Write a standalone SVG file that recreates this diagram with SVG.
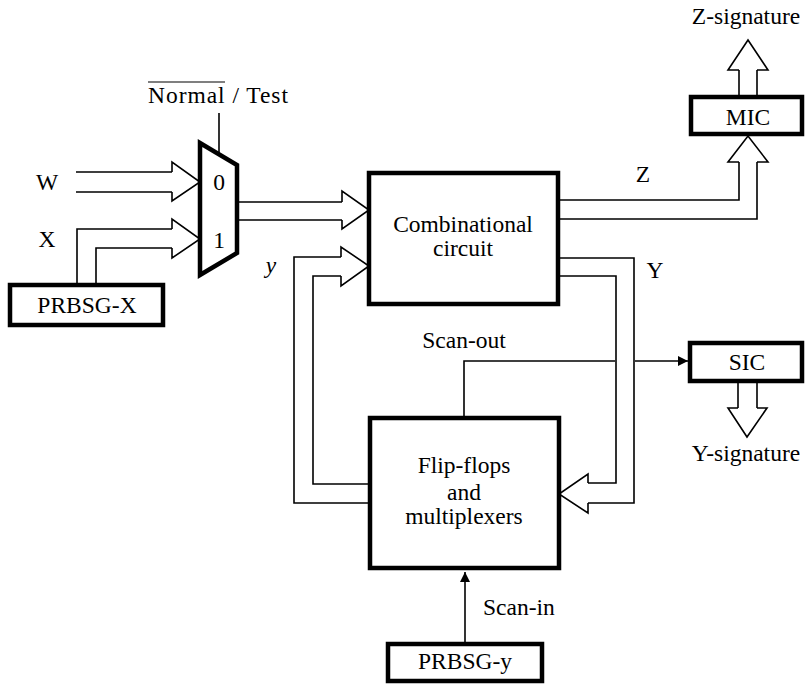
<svg xmlns="http://www.w3.org/2000/svg" width="809" height="684" viewBox="0 0 809 684">
<defs>
<marker id="ah" markerWidth="10" markerHeight="10" refX="10" refY="5" orient="auto" markerUnits="userSpaceOnUse"><path d="M0,0 L10,5 L0,10 Z" fill="#000"/></marker>
<style>
.t{font-family:"Liberation Serif","Times New Roman",serif;font-size:23.5px;fill:#000}
.c{text-anchor:middle}
.box{fill:#fff;stroke:#000;stroke-width:4.5}
.ln{fill:none;stroke:#000;stroke-width:1.6}
.bus{fill:#fff;stroke:#000;stroke-width:1.6;stroke-linejoin:miter}
</style>
</defs>
<rect width="809" height="684" fill="#fff"/>
<g id="connectors">
<path class="ln" d="M76,172 H172 M76,192 H172"/>
<path class="bus" d="M172,172 V162 L200,182 L172,201 V192"/>
<path class="ln" d="M77,285 V229 H172 M96,285 V248 H172"/>
<path class="bus" d="M172,229 V219 L200,239 L172,258 V248"/>
<path class="ln" d="M219,113 V154"/>
<path class="ln" d="M237,202 H342 M237,220 H342"/>
<path class="bus" d="M342,202 V191 L369,210 L342,229 V220"/>
<path class="ln" d="M370,503 H294 V257 H341 M370,484 H313 V276 H341"/>
<path class="bus" d="M341,257 V247 L369,266 L341,286 V276"/>
<path class="ln" d="M558,200 H739 V162 M558,219 H757 V162"/>
<path class="bus" d="M739,162 H728 L748,136 L768,162 H757"/>
<path class="ln" d="M739,96 V70 M757,96 V70"/>
<path class="bus" d="M739,70 H728 L748,40 L768,70 H757"/>
<path class="ln" d="M558,258 H634 V503 H588 M558,276 H616 V483 H588"/>
<path class="bus" d="M588,483 V474 L559,494 L588,513 V503"/>
<path class="ln" d="M464,418 V361 H615"/>
<path class="ln" d="M635,361 H688" marker-end="url(#ah)"/>
<path class="ln" d="M738,381 V408 M757,381 V408"/>
<path class="bus" d="M738,408 H728 L747,437 L767,408 H757"/>
<path class="ln" d="M465,643 V572" marker-end="url(#ah)"/>
</g>
<g id="mux">
<path d="M200,143 L237,165 L237,253 L200,275 Z" fill="#fff" stroke="#000" stroke-width="4.5" stroke-linejoin="miter"/>
<text class="t c" x="219" y="190">0</text>
<text class="t c" x="219" y="248">1</text>
</g>
<g id="sel-label">
<text class="t" x="148" y="103" textLength="140" lengthAdjust="spacing">Normal / Test</text>
<line x1="148" y1="82" x2="225" y2="82" stroke="#000" stroke-width="1.2"/>
</g>
<g id="in-labels">
<text class="t c" x="47" y="190">W</text>
<text class="t c" x="47" y="247">X</text>
<text class="t c" x="271" y="273" font-style="italic">y</text>
<text class="t c" x="643" y="182">Z</text>
<text class="t c" x="655" y="278">Y</text>
<text class="t c" x="464" y="348">Scan-out</text>
<text class="t" x="483" y="615">Scan-in</text>
<text class="t c" x="746" y="24">Z-signature</text>
<text class="t c" x="746" y="461">Y-signature</text>
</g>
<g id="prbsg-x">
<rect class="box" x="10" y="285" width="153" height="40"/>
<text class="t c" x="87" y="313">PRBSG-X</text>
</g>
<g id="comb">
<rect class="box" x="369" y="173" width="189" height="131"/>
<text class="t c" x="463" y="232">Combinational</text>
<text class="t c" x="463" y="256">circuit</text>
</g>
<g id="ff">
<rect class="box" x="370" y="418" width="189" height="150"/>
<text class="t c" x="464" y="473">Flip-flops</text>
<text class="t c" x="464" y="500">and</text>
<text class="t c" x="464" y="524">multiplexers</text>
</g>
<g id="mic">
<rect class="box" x="691" y="97" width="111" height="37"/>
<text class="t c" x="748" y="125">MIC</text>
</g>
<g id="sic">
<rect class="box" x="690" y="343" width="112" height="38"/>
<text class="t c" x="747" y="370">SIC</text>
</g>
<g id="prbsg-y">
<rect class="box" x="388" y="644" width="154" height="37"/>
<text class="t c" x="465" y="669">PRBSG-y</text>
</g>
</svg>
